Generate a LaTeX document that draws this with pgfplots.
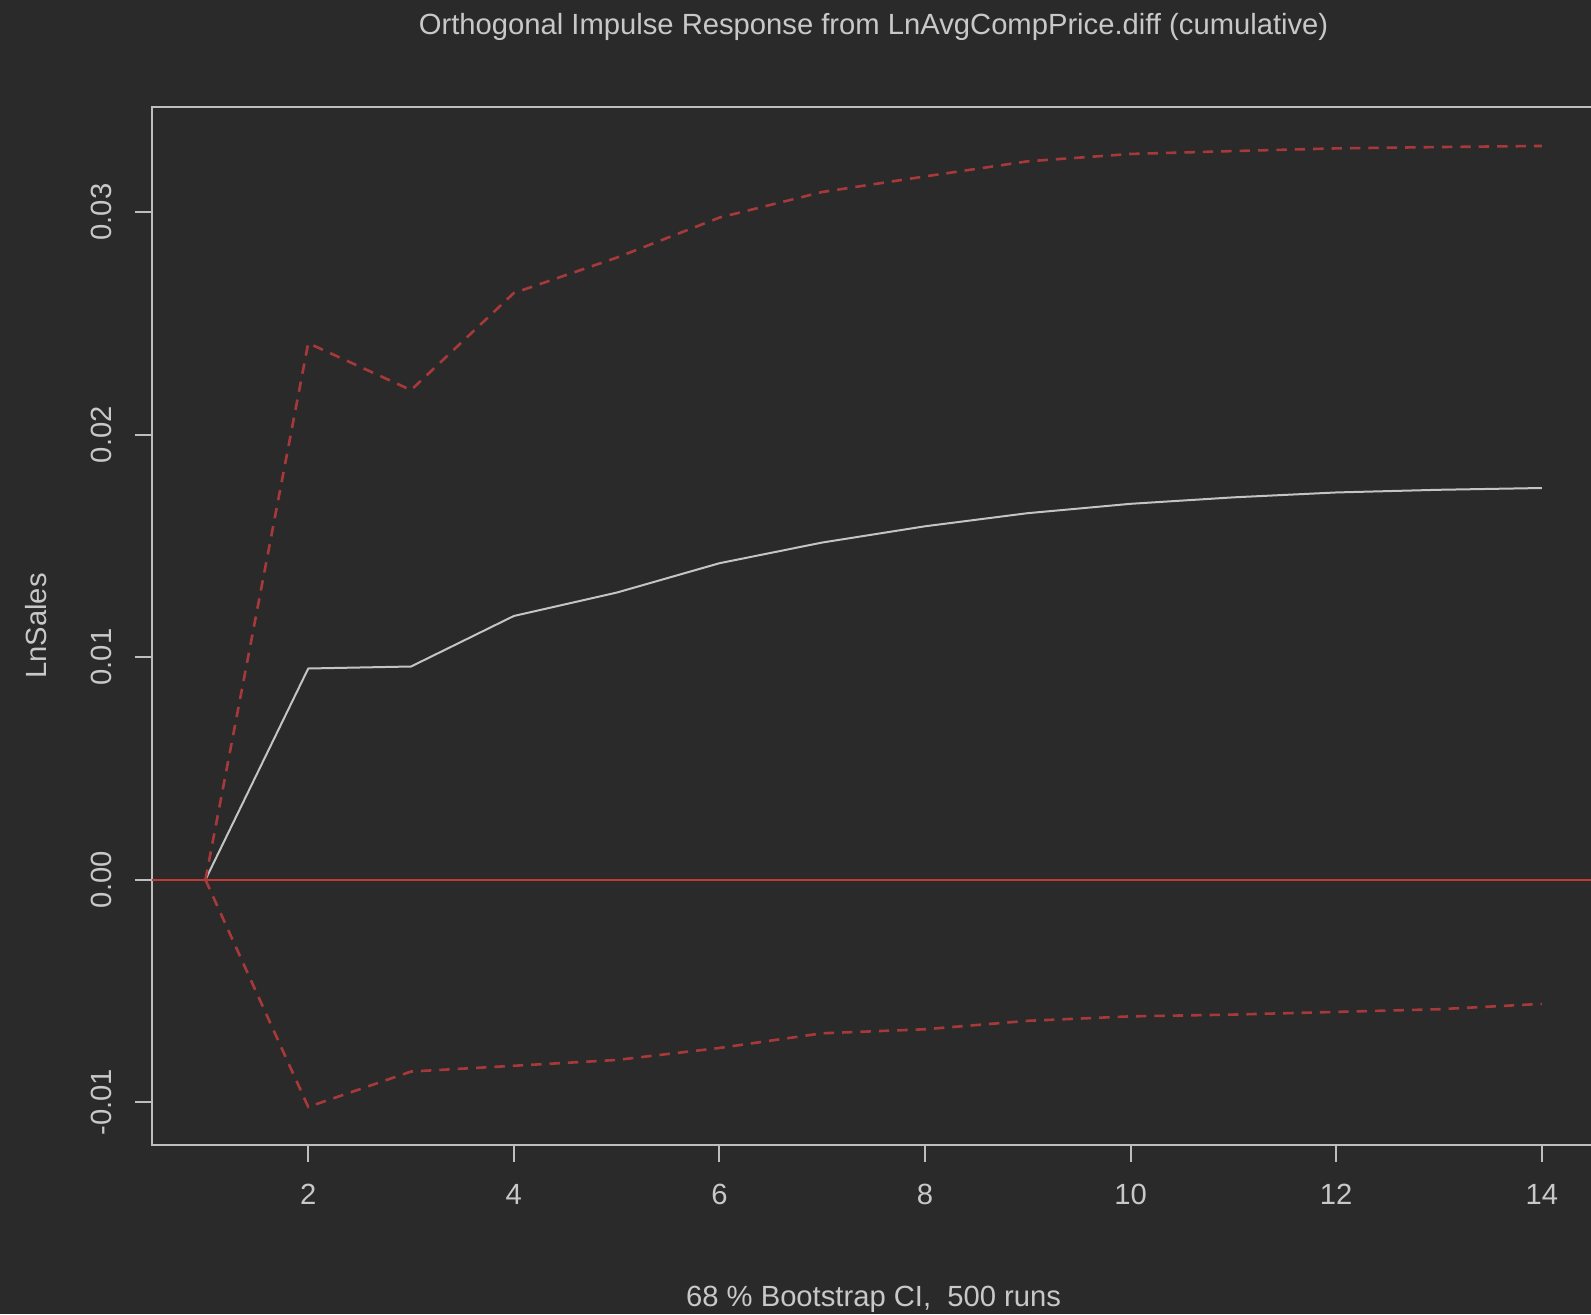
\documentclass[border=0pt]{standalone}
\usepackage{fontspec}
\setmainfont{Liberation Sans}
\usepackage{pgfplots}
\pgfplotsset{compat=1.18}
\definecolor{bg}{HTML}{2A2A2A}
\definecolor{fg}{HTML}{C8C8C8}
\definecolor{axc}{HTML}{BEBEBE}
\definecolor{ciRed}{HTML}{A8393A}
\definecolor{zeroRed}{HTML}{C03A3C}
\definecolor{mainc}{HTML}{C4C4C4}
\newcommand{\chartfont}{\fontsize{7.3}{8.7}\selectfont}
\begin{document}
\begin{tikzpicture}[x=0.25pt,y=0.25pt]
\fill[bg] (0,0) rectangle (1591,1314);
\clip (0,0) rectangle (1591,1314);
\begin{axis}[
  at={(38pt,42.25pt)}, anchor=south west,
  scale only axis, width=360.8pt, height=259.5pt,
  xmin=0.48, xmax=14.52, ymin=-0.01192, ymax=0.03472,
  axis line style={axc, line width=0.5pt},
  tick style={axc, line width=0.5pt},
  major tick length=4.25pt,
  tick align=outside,
  tick pos=left,
  xtick={2,4,6,8,10,12,14},
  ytick={-0.01,0,0.01,0.02,0.03},
  scaled y ticks=false,
  /pgf/number format/assume math mode=true,
  yticklabel style={/pgf/number format/fixed, /pgf/number format/fixed zerofill, /pgf/number format/precision=2},
  yticklabel style={rotate=90, anchor=base, inner sep=0pt},
  xticklabel style={anchor=base, inner sep=0pt},
  yticklabel shift=5.75pt,
  xticklabel shift=10.6pt,
  tick label style={font=\chartfont, text=fg},
  label style={font=\chartfont, text=fg},
  every axis title shift=0pt,
  title style={font=\chartfont, text=fg, at={(axis description cs:0.5,1.0694)}, anchor=base},
  xlabel style={at={(axis description cs:0.5,-0.1551)}, anchor=base},
  ylabel style={at={(axis description cs:-0.07344,0.5)}, anchor=base},
  title={Orthogonal Impulse Response from LnAvgCompPrice.diff (cumulative)},
  xlabel={68 \% Bootstrap CI,\ \ 500 runs},
  ylabel={LnSales},
  clip=true,
]
\addplot[mainc, line width=0.5pt] coordinates {
(1,0) (2,0.00949) (3,0.00958) (4,0.01185) (5,0.01290) (6,0.01422) (7,0.01515)
(8,0.01588) (9,0.01647) (10,0.01689) (11,0.01718) (12,0.01740) (13,0.01752) (14,0.01760)};
\addplot[zeroRed, line width=0.5pt] coordinates {(0.48,0) (14.52,0)};
\addplot[ciRed, line width=0.65pt, dash pattern=on 2.6pt off 2pt] coordinates {
(1,0) (2,0.02411) (3,0.02200) (4,0.02636) (5,0.02795) (6,0.02975) (7,0.03090)
(8,0.03160) (9,0.03228) (10,0.03261) (11,0.03274) (12,0.03286) (13,0.03292) (14,0.03297)};
\addplot[ciRed, line width=0.65pt, dash pattern=on 2.6pt off 2pt] coordinates {
(1,0) (2,-0.01021) (3,-0.00862) (4,-0.00836) (5,-0.00810) (6,-0.00756) (7,-0.00690)
(8,-0.00672) (9,-0.00634) (10,-0.00614) (11,-0.00606) (12,-0.00594) (13,-0.00582) (14,-0.00558)};
\end{axis}
\end{tikzpicture}
\end{document}
